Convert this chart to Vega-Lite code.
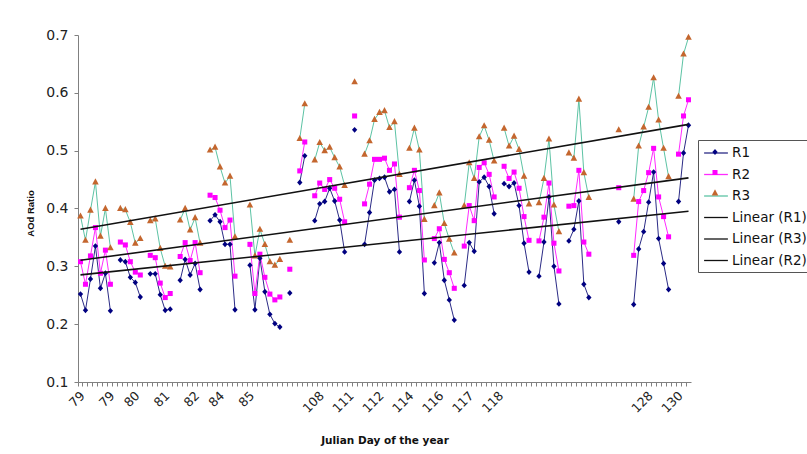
{
  "$schema": "https://vega.github.io/schema/vega-lite/v6.json",
  "width": 613,
  "height": 347,
  "autosize": {"type": "none"},
  "padding": {"left": 78, "top": 35, "right": 116, "bottom": 72},
  "background": "white",
  "config": {"view": {"stroke": null}, "font": "DejaVu Sans"},
  "data": {
    "values": [
      {"i": 0, "R1": 0.252, "R2": 0.308, "R3": 0.387},
      {"i": 1, "R1": 0.224, "R2": 0.269, "R3": 0.345},
      {"i": 2, "R1": 0.278, "R2": 0.318, "R3": 0.397},
      {"i": 3, "R1": 0.335, "R2": 0.367, "R3": 0.446},
      {"i": 4, "R1": 0.262, "R2": 0.288, "R3": 0.352},
      {"i": 5, "R1": 0.288, "R2": 0.328, "R3": 0.400},
      {"i": 6, "R1": 0.223, "R2": 0.269, "R3": 0.332},
      {"i": 7, "R1": null, "R2": null, "R3": null},
      {"i": 8, "R1": 0.311, "R2": 0.342, "R3": 0.400},
      {"i": 9, "R1": 0.308, "R2": 0.337, "R3": 0.398},
      {"i": 10, "R1": 0.281, "R2": 0.308, "R3": 0.376},
      {"i": 11, "R1": 0.272, "R2": 0.290, "R3": 0.340},
      {"i": 12, "R1": 0.247, "R2": 0.285, "R3": 0.348},
      {"i": 13, "R1": null, "R2": null, "R3": null},
      {"i": 14, "R1": 0.287, "R2": 0.319, "R3": 0.379},
      {"i": 15, "R1": 0.287, "R2": 0.315, "R3": 0.382},
      {"i": 16, "R1": 0.251, "R2": 0.271, "R3": 0.331},
      {"i": 17, "R1": 0.224, "R2": 0.246, "R3": 0.300},
      {"i": 18, "R1": 0.226, "R2": 0.253, "R3": 0.299},
      {"i": 19, "R1": null, "R2": null, "R3": null},
      {"i": 20, "R1": 0.276, "R2": 0.317, "R3": 0.380},
      {"i": 21, "R1": 0.312, "R2": 0.341, "R3": 0.400},
      {"i": 22, "R1": 0.285, "R2": 0.310, "R3": 0.363},
      {"i": 23, "R1": 0.305, "R2": 0.341, "R3": 0.384},
      {"i": 24, "R1": 0.260, "R2": 0.289, "R3": 0.340},
      {"i": 25, "R1": null, "R2": null, "R3": null},
      {"i": 26, "R1": 0.379, "R2": 0.423, "R3": 0.501},
      {"i": 27, "R1": 0.389, "R2": 0.419, "R3": 0.506},
      {"i": 28, "R1": 0.377, "R2": 0.397, "R3": 0.472},
      {"i": 29, "R1": 0.338, "R2": 0.367, "R3": 0.444},
      {"i": 30, "R1": 0.338, "R2": 0.380, "R3": 0.456},
      {"i": 31, "R1": 0.225, "R2": 0.283, "R3": 0.351},
      {"i": 32, "R1": null, "R2": null, "R3": null},
      {"i": 33, "R1": null, "R2": null, "R3": null},
      {"i": 34, "R1": 0.302, "R2": 0.338, "R3": 0.406},
      {"i": 35, "R1": 0.225, "R2": 0.253, "R3": 0.318},
      {"i": 36, "R1": 0.314, "R2": 0.321, "R3": 0.364},
      {"i": 37, "R1": 0.256, "R2": 0.281, "R3": 0.338},
      {"i": 38, "R1": 0.217, "R2": 0.252, "R3": 0.308},
      {"i": 39, "R1": 0.201, "R2": 0.242, "R3": 0.302},
      {"i": 40, "R1": 0.195, "R2": 0.247, "R3": 0.312},
      {"i": 41, "R1": null, "R2": null, "R3": null},
      {"i": 42, "R1": 0.254, "R2": 0.295, "R3": 0.345},
      {"i": 43, "R1": null, "R2": null, "R3": null},
      {"i": 44, "R1": 0.445, "R2": 0.465, "R3": 0.521},
      {"i": 45, "R1": 0.491, "R2": 0.515, "R3": 0.581},
      {"i": 46, "R1": null, "R2": null, "R3": null},
      {"i": 47, "R1": 0.379, "R2": 0.422, "R3": 0.484},
      {"i": 48, "R1": 0.408, "R2": 0.444, "R3": 0.514},
      {"i": 49, "R1": 0.412, "R2": 0.433, "R3": 0.500},
      {"i": 50, "R1": 0.435, "R2": 0.450, "R3": 0.506},
      {"i": 51, "R1": 0.413, "R2": 0.435, "R3": 0.488},
      {"i": 52, "R1": 0.380, "R2": 0.416, "R3": 0.472},
      {"i": 53, "R1": 0.325, "R2": 0.377, "R3": 0.440},
      {"i": 54, "R1": null, "R2": null, "R3": null},
      {"i": 55, "R1": 0.536, "R2": 0.560, "R3": 0.619},
      {"i": 56, "R1": null, "R2": null, "R3": null},
      {"i": 57, "R1": 0.338, "R2": 0.408, "R3": 0.494},
      {"i": 58, "R1": 0.393, "R2": 0.442, "R3": 0.517},
      {"i": 59, "R1": 0.449, "R2": 0.485, "R3": 0.554},
      {"i": 60, "R1": 0.452, "R2": 0.485, "R3": 0.566},
      {"i": 61, "R1": 0.454, "R2": 0.487, "R3": 0.569},
      {"i": 62, "R1": 0.429, "R2": 0.466, "R3": 0.540},
      {"i": 63, "R1": 0.433, "R2": 0.477, "R3": 0.550},
      {"i": 64, "R1": 0.325, "R2": 0.385, "R3": 0.459},
      {"i": 65, "R1": null, "R2": null, "R3": null},
      {"i": 66, "R1": 0.412, "R2": 0.436, "R3": 0.504},
      {"i": 67, "R1": 0.449, "R2": 0.466, "R3": 0.539},
      {"i": 68, "R1": 0.404, "R2": 0.431, "R3": 0.501},
      {"i": 69, "R1": 0.253, "R2": 0.311, "R3": 0.381},
      {"i": 70, "R1": null, "R2": null, "R3": null},
      {"i": 71, "R1": 0.306, "R2": 0.348, "R3": 0.405},
      {"i": 72, "R1": 0.341, "R2": 0.365, "R3": 0.427},
      {"i": 73, "R1": 0.276, "R2": 0.312, "R3": 0.374},
      {"i": 74, "R1": 0.242, "R2": 0.289, "R3": 0.347},
      {"i": 75, "R1": 0.207, "R2": 0.262, "R3": 0.323},
      {"i": 76, "R1": null, "R2": null, "R3": null},
      {"i": 77, "R1": 0.267, "R2": 0.335, "R3": 0.405},
      {"i": 78, "R1": 0.341, "R2": 0.405, "R3": 0.479},
      {"i": 79, "R1": 0.326, "R2": 0.379, "R3": 0.452},
      {"i": 80, "R1": 0.446, "R2": 0.471, "R3": 0.524},
      {"i": 81, "R1": 0.454, "R2": 0.479, "R3": 0.543},
      {"i": 82, "R1": 0.438, "R2": 0.459, "R3": 0.518},
      {"i": 83, "R1": 0.391, "R2": 0.420, "R3": 0.482},
      {"i": 84, "R1": null, "R2": null, "R3": null},
      {"i": 85, "R1": 0.443, "R2": 0.473, "R3": 0.539},
      {"i": 86, "R1": 0.438, "R2": 0.452, "R3": 0.508},
      {"i": 87, "R1": 0.444, "R2": 0.463, "R3": 0.525},
      {"i": 88, "R1": 0.405, "R2": 0.435, "R3": 0.502},
      {"i": 89, "R1": 0.340, "R2": 0.386, "R3": 0.456},
      {"i": 90, "R1": 0.290, "R2": 0.345, "R3": 0.408},
      {"i": 91, "R1": null, "R2": null, "R3": null},
      {"i": 92, "R1": 0.283, "R2": 0.344, "R3": 0.410},
      {"i": 93, "R1": 0.342, "R2": 0.385, "R3": 0.452},
      {"i": 94, "R1": 0.420, "R2": 0.444, "R3": 0.520},
      {"i": 95, "R1": 0.300, "R2": 0.340, "R3": 0.406},
      {"i": 96, "R1": 0.235, "R2": 0.292, "R3": 0.360},
      {"i": 97, "R1": null, "R2": null, "R3": null},
      {"i": 98, "R1": 0.344, "R2": 0.404, "R3": 0.496},
      {"i": 99, "R1": 0.364, "R2": 0.405, "R3": 0.487},
      {"i": 100, "R1": 0.413, "R2": 0.466, "R3": 0.589},
      {"i": 101, "R1": 0.269, "R2": 0.342, "R3": 0.462},
      {"i": 102, "R1": 0.246, "R2": 0.321, "R3": 0.419},
      {"i": 103, "R1": null, "R2": null, "R3": null},
      {"i": 104, "R1": null, "R2": null, "R3": null},
      {"i": 105, "R1": null, "R2": null, "R3": null},
      {"i": 106, "R1": null, "R2": null, "R3": null},
      {"i": 107, "R1": null, "R2": null, "R3": null},
      {"i": 108, "R1": 0.377, "R2": 0.436, "R3": 0.536},
      {"i": 109, "R1": null, "R2": null, "R3": null},
      {"i": 110, "R1": null, "R2": null, "R3": null},
      {"i": 111, "R1": 0.234, "R2": 0.319, "R3": 0.416},
      {"i": 112, "R1": 0.330, "R2": 0.412, "R3": 0.508},
      {"i": 113, "R1": 0.360, "R2": 0.431, "R3": 0.541},
      {"i": 114, "R1": 0.411, "R2": 0.462, "R3": 0.575},
      {"i": 115, "R1": 0.463, "R2": 0.504, "R3": 0.626},
      {"i": 116, "R1": 0.348, "R2": 0.420, "R3": 0.553},
      {"i": 117, "R1": 0.305, "R2": 0.386, "R3": 0.504},
      {"i": 118, "R1": 0.260, "R2": 0.351, "R3": 0.455},
      {"i": 119, "R1": null, "R2": null, "R3": null},
      {"i": 120, "R1": 0.412, "R2": 0.494, "R3": 0.594},
      {"i": 121, "R1": 0.496, "R2": 0.560, "R3": 0.667},
      {"i": 122, "R1": 0.544, "R2": 0.588, "R3": 0.696}
    ]
  },
  "transform": [{"fold": ["R1", "R2", "R3"], "as": ["series", "v"]}],
  "encoding": {
    "x": {
      "field": "i",
      "type": "ordinal",
      "sort": "ascending",
      "scale": {"type": "band", "paddingInner": 0, "paddingOuter": 0},
      "title": "Julian Day of the year",
      "axis": {
        "bandPosition": 0,
        "labelAngle": -45,
        "labelOffset": -2,
        "labelExpr": "{'0':'79','6':'79','11':'80','17':'81','23':'82','28':'84','34':'85','48':'108','54':'111','60':'112','66':'114','72':'116','78':'117','84':'118','114':'128','120':'130'}[datum.value] || ''",
        "labelOverlap": false,
        "labelFont": "DejaVu Sans",
        "labelFontSize": 12.5,
        "labelColor": "#222222",
        "labelPadding": 3,
        "tickSize": 4,
        "tickColor": "#808080",
        "domainColor": "#808080",
        "grid": false,
        "titleFont": "DejaVu Sans",
        "titleFontSize": 10.5,
        "titleFontWeight": "bold",
        "titleColor": "#111111",
        "titleBaseline": "middle",
        "titleY": 58
      }
    },
    "y": {
      "field": "v",
      "type": "quantitative",
      "scale": {"domain": [0.1, 0.7], "zero": false, "nice": false},
      "title": "AOd Ratio",
      "axis": {
        "values": [0.1, 0.2, 0.3, 0.4, 0.5, 0.6, 0.7],
        "format": ".1f",
        "labelFont": "DejaVu Sans",
        "labelFontSize": 14,
        "labelColor": "#222222",
        "labelPadding": 6,
        "tickSize": 4,
        "tickColor": "#808080",
        "domainColor": "#808080",
        "grid": false,
        "titleFont": "Liberation Sans",
        "titleFontSize": 9.5,
        "titleFontWeight": "bold",
        "titleColor": "#111111",
        "titleX": -48,
        "titleY": 178,
        "titleAngle": -90,
        "titleAlign": "center",
        "titleBaseline": "middle"
      }
    }
  },
  "layer": [
    {
      "mark": {"type": "line", "strokeWidth": 1, "invalid": "break-paths-show-domains"},
      "encoding": {
        "color": {
          "field": "series",
          "type": "nominal",
          "scale": {
            "domain": ["R1", "R2", "R3", "Linear (R1)", "Linear (R3)", "Linear (R2)"],
            "range": ["#2b2b86", "#ff2bff", "#5cc3a4", "#111111", "#111111", "#111111"]
          },
          "legend": {
            "title": null,
            "orient": "none",
            "legendX": 620,
            "legendY": 105,
            "padding": 5,
            "strokeColor": "#555555",
            "fillColor": "transparent",
            "symbolSize": 196,
            "symbolOffset": 5,
            "labelOffset": 8,
            "rowPadding": 6.5,
            "labelFont": "DejaVu Sans",
            "labelFontSize": 13.5,
            "labelColor": "#111111",
            "encode": {
              "symbols": {
                "update": {
                  "shape": {"value": "M-1.7,0H1.7"},
                  "strokeWidth": {"value": 1.3},
                  "opacity": {"value": 1}
                }
              }
            }
          }
        }
      }
    },
    {
      "mark": {"type": "point", "filled": true, "opacity": 1, "size": 196, "strokeWidth": 0},
      "encoding": {
        "shape": {
          "field": "series",
          "type": "nominal",
          "scale": {
            "domain": ["R1", "R2", "R3", "T1", "T3", "T2"],
            "range": ["M0,-0.42L0.38,0L0,0.42L-0.38,0Z", "M-0.36,-0.36H0.36V0.36H-0.36Z", "M0,-0.52L0.47,0.36H-0.47Z", "M0,0", "M0,0", "M0,0"]
          },
          "legend": {
            "title": null,
            "orient": "none",
            "legendX": 620,
            "legendY": 105,
            "padding": 5,
            "strokeColor": null,
            "fillColor": "transparent",
            "symbolSize": 196,
            "symbolOffset": 5,
            "symbolStrokeWidth": 0,
            "labelOffset": 8,
            "rowPadding": 6.5,
            "labelFont": "DejaVu Sans",
            "labelFontSize": 13.5,
            "labelExpr": "''"
          }
        },
        "fill": {
          "field": "series",
          "type": "nominal",
          "scale": {
            "domain": ["R1", "R2", "R3", "T1", "T3", "T2"],
            "range": ["#000080", "#ff00ff", "#c4662e", "transparent", "transparent", "transparent"]
          },
          "legend": {
            "title": null,
            "orient": "none",
            "legendX": 620,
            "legendY": 105,
            "padding": 5,
            "strokeColor": null,
            "fillColor": "transparent",
            "symbolSize": 196,
            "symbolOffset": 5,
            "symbolStrokeWidth": 0,
            "labelOffset": 8,
            "rowPadding": 6.5,
            "labelFont": "DejaVu Sans",
            "labelFontSize": 13.5,
            "labelExpr": "''"
          }
        }
      }
    },
    {
      "transform": [{"regression": "v", "on": "i", "groupby": ["series"], "extent": [0, 122]}],
      "mark": {"type": "line", "color": "#111111", "strokeWidth": 1.6},
      "encoding": {"detail": {"field": "series", "type": "nominal"}}
    }
  ]
}
